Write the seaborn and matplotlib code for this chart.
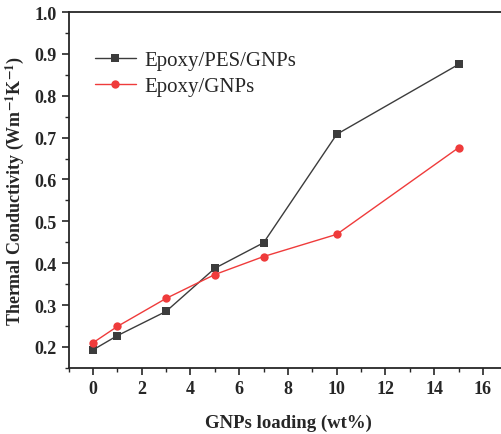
import pandas as pd
import matplotlib.pyplot as plt
import seaborn as sns
from matplotlib.ticker import MultipleLocator

# Data
loading = [0, 1, 3, 5, 7, 10, 15]
pes_gnps = [0.193, 0.227, 0.285, 0.388, 0.449, 0.708, 0.875]
epoxy_gnps = [0.210, 0.249, 0.316, 0.373, 0.416, 0.469, 0.676]
series_names = ["Epoxy/PES/GNPs", "Epoxy/GNPs"]

df = pd.DataFrame({
    "x": loading * 2,
    "y": pes_gnps + epoxy_gnps,
    "Sample": [series_names[0]] * len(loading) + [series_names[1]] * len(loading),
})

sns.set_style("ticks")
plt.rcParams['font.family'] = ['Liberation Serif', 'DejaVu Serif']
plt.rcParams['mathtext.fontset'] = 'stix'

pal = {series_names[0]: "#3c3c3c", series_names[1]: "#ef3b3b"}
marks = {series_names[0]: "s", series_names[1]: "o"}

fig = plt.figure(figsize=(5.02, 4.35), dpi=100)
ax = fig.add_axes([0.1367, 0.152, 0.874, 0.818])

sns.lineplot(data=df, x="x", y="y", hue="Sample", style="Sample", palette=pal,
             markers=marks, dashes=False, markersize=6, linewidth=1.0,
             markeredgewidth=0, ax=ax)

ax.set_xlim(-1, 17)
ax.set_ylim(0.15, 1.0)
ax.xaxis.set_major_locator(MultipleLocator(2))
ax.xaxis.set_minor_locator(MultipleLocator(1))
ax.yaxis.set_minor_locator(MultipleLocator(0.05))
ax.set_yticks([0.2, 0.3, 0.4, 0.5, 0.6, 0.7, 0.8, 0.9, 1.0])
ax.tick_params(which="major", direction="out", length=5, width=1.2, labelsize=13)
ax.tick_params(which="minor", direction="out", length=3, width=1.0)
for lab in ax.get_xticklabels() + ax.get_yticklabels():
    lab.set_fontweight("bold")
for sp in ax.spines.values():
    sp.set_linewidth(1.3)
ax.spines["right"].set_visible(False)

ax.set_xlabel("GNPs loading (wt%)", fontsize=13.5, fontweight="bold", labelpad=12)
ax.set_ylabel(r"Thermal Conductivity (Wm$^{\mathbf{-1}}$K$^{\mathbf{-1}}$)",
              fontsize=13, fontweight="bold", labelpad=6)

leg = ax.legend(loc="upper left", bbox_to_anchor=(0.04, 0.915), frameon=False,
                fontsize=15, handlelength=2.0, handletextpad=0.4, labelspacing=0.3,
                borderaxespad=0)

fig.savefig("out.png", dpi=100)
